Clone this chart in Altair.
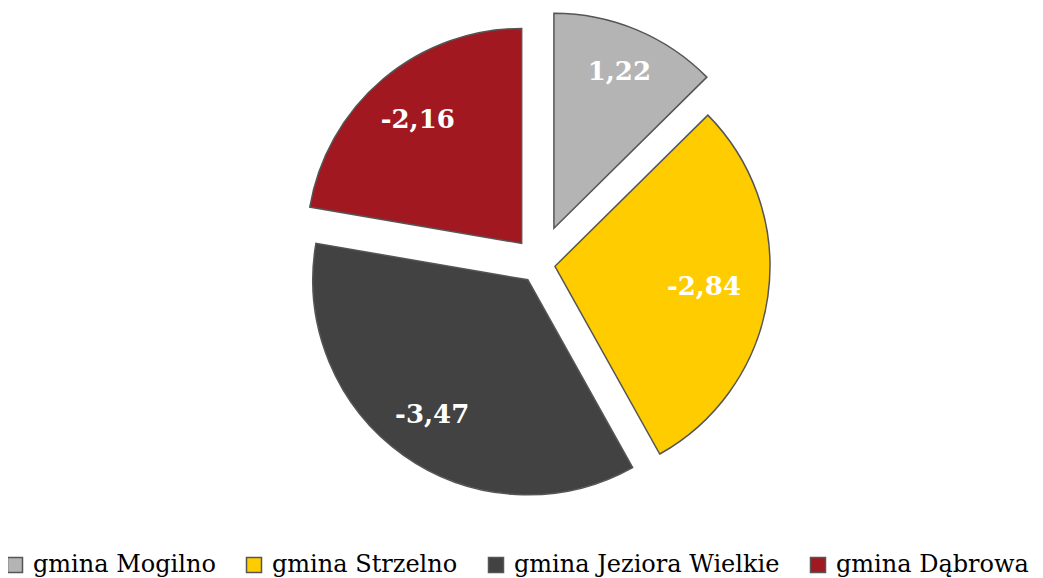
import altair as alt
import pandas as pd

categories = ["gmina Mogilno", "gmina Strzelno", "gmina Jeziora Wielkie", "gmina Dąbrowa"]
values = [1.22, -2.84, -3.47, -2.16]
colors = ["#B4B4B4", "#FFCC00", "#424242", "#A11820"]
explode = [0.18, 0.075, 0.09, 0.125]     # slice offset, fraction of radius (style)
label_r = [0.79, 0.70, 0.77, 0.75]       # label distance, fraction of radius (style)

labels = [f"{v:.2f}".replace(".", ",") for v in values]

df = pd.DataFrame({
    "cat": categories,
    "val": values,
    "order": list(range(len(categories))),
    "explode": explode,
    "lr": label_r,
    "label": labels,
})

W, H = 1027, 570
R = 215
CX, CY = 531, 256

xs = alt.Scale(domain=[-CX / R, (W - CX) / R], nice=False, zero=False)
ys = alt.Scale(domain=[-(H - CY) / R, CY / R], nice=False, zero=False)

base = (
    alt.Chart(df)
    .transform_calculate(a="abs(datum.val)")
    .transform_joinaggregate(total="sum(a)")
    .transform_window(cum="sum(a)", sort=[alt.SortField("order")], frame=[None, 0])
    .transform_calculate(
        t0="(datum.cum - datum.a) / datum.total * 2 * PI",
        t1="datum.cum / datum.total * 2 * PI",
    )
    .transform_calculate(mid="(datum.t0 + datum.t1) / 2")
    .transform_calculate(
        ox="datum.explode * sin(datum.mid)",
        oy="datum.explode * cos(datum.mid)",
        lx="(datum.explode + datum.lr) * sin(datum.mid)",
        ly="(datum.explode + datum.lr) * cos(datum.mid)",
    )
)

arcs = base.mark_arc(radius=R, stroke="#555555", strokeWidth=1.5).encode(
    x=alt.X("ox:Q", scale=xs, axis=None),
    y=alt.Y("oy:Q", scale=ys, axis=None),
    theta=alt.Theta("t0:Q", scale=None, stack=False),
    theta2="t1:Q",
    color=alt.Color(
        "cat:N",
        scale=alt.Scale(domain=categories, range=colors),
        sort=categories,
        legend=alt.Legend(
            orient="none",
            legendX=-5,
            legendY=545,
            direction="horizontal",
            title=None,
            symbolType="square",
            symbolSize=225,
            symbolStrokeColor="#555555",
            symbolStrokeWidth=1.5,
            labelFont="DejaVu Serif",
            labelFontSize=24,
            labelColor="#000000",
            labelOffset=6,
            columnPadding=26,
            padding=0,
            labelLimit=400,
        ),
    ),
)

texts = base.mark_text(
    font="DejaVu Serif", fontWeight="bold", fontSize=26, color="white",
    align="center", baseline="middle",
).encode(
    x=alt.X("lx:Q", scale=xs, axis=None),
    y=alt.Y("ly:Q", scale=ys, axis=None),
    text="label:N",
)

chart = (
    alt.layer(arcs, texts)
    .properties(width=W, height=H, autosize=alt.AutoSizeParams(type="none"), padding=0)
    .configure_view(stroke=None)
)

chart.save("out.html", embed_options={"renderer": "svg", "actions": False})
